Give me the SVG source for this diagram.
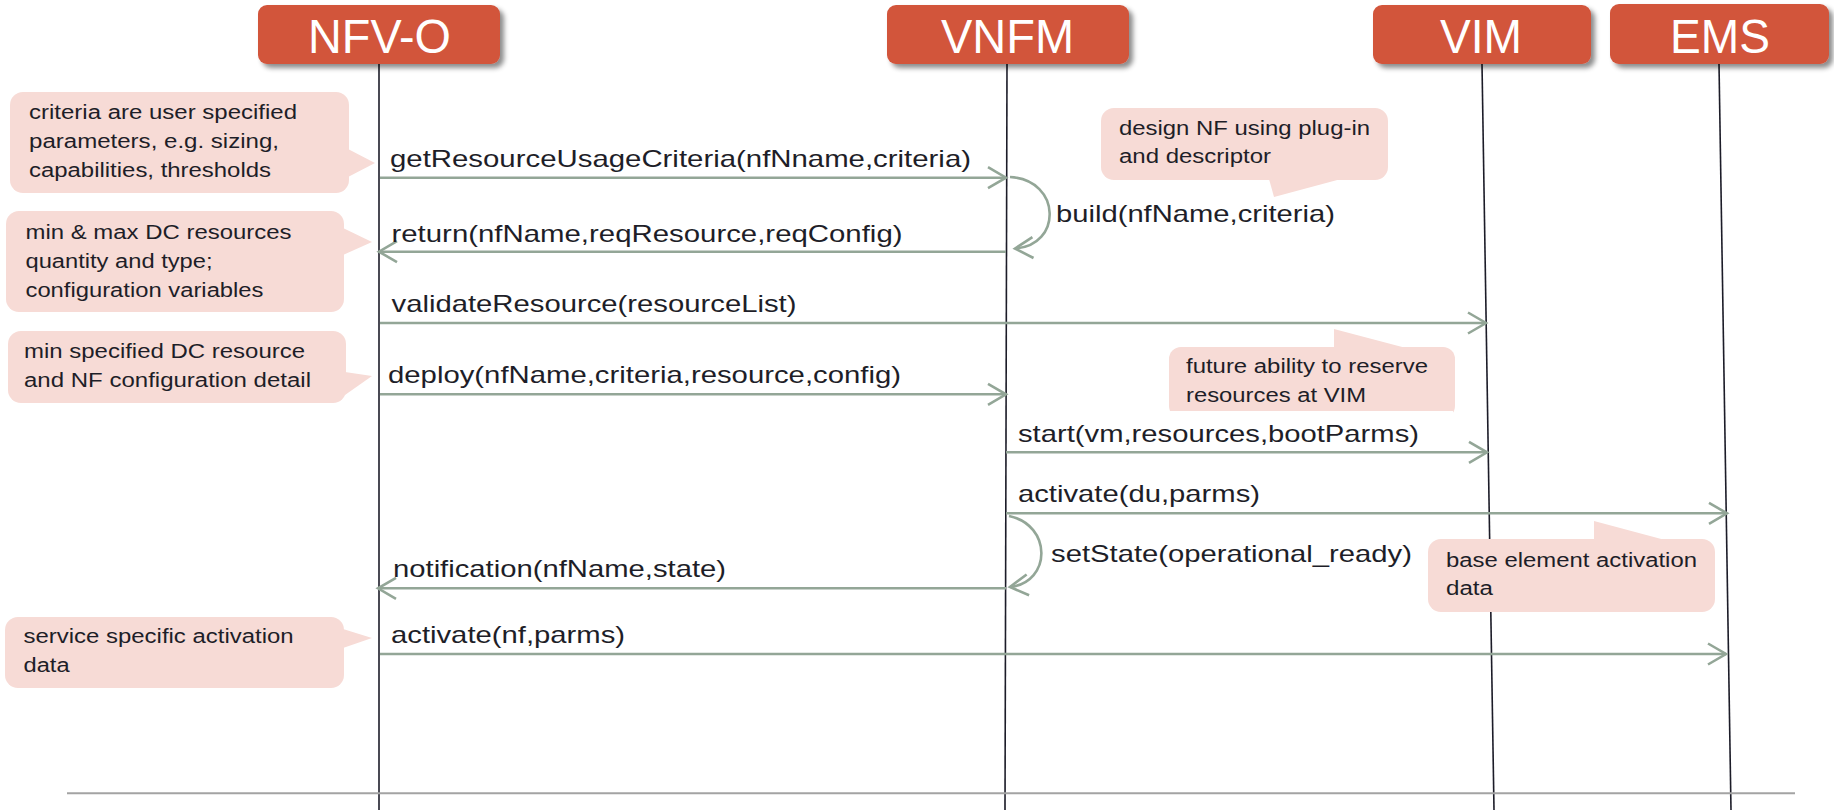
<svg xmlns="http://www.w3.org/2000/svg" width="1834" height="810" viewBox="0 0 1834 810">
<style>
.hdr{fill:#D2543B;}
.hdrt{font-family:"Liberation Sans",Arial,sans-serif;font-size:48px;fill:#ffffff;}
.life{stroke:#1c1c28;stroke-width:1.6;fill:none;}
.msg{stroke:#93A697;stroke-width:2.6;fill:none;marker-end:url(#arr);}
.lbl{font-family:"Liberation Sans",Arial,sans-serif;font-size:24px;fill:#1e1e28;}
.note{fill:#F7DBD6;}
.nt{font-family:"Liberation Sans",Arial,sans-serif;font-size:20px;fill:#1e1e28;}
</style>
<defs>
<marker id="arr" markerUnits="userSpaceOnUse" viewBox="-2 -2 24 26" refX="19" refY="10.5" markerWidth="24" markerHeight="26" orient="auto">
<path d="M1 0 L19 10.5 L1 21" fill="none" stroke="#93A697" stroke-width="2.6"/>
</marker>
<filter id="sh" x="-10%" y="-20%" width="125%" height="150%">
<feDropShadow dx="4" dy="4" stdDeviation="2.5" flood-color="#000" flood-opacity="0.45"/>
</filter>
</defs>
<rect width="1834" height="810" fill="#ffffff"/>

<g id="lifelines">
<path class="life" d="M379 64 V810"/>
<path class="life" d="M1007 64 L1005 810"/>
<path class="life" d="M1482 64 L1494 810"/>
<path class="life" d="M1719 64 L1731 810"/>
</g>

<g id="node-nfvo">
<rect class="hdr" x="258" y="5" width="242" height="59" rx="9" filter="url(#sh)"/>
<text class="hdrt" x="308" y="53" textLength="143" lengthAdjust="spacingAndGlyphs">NFV-O</text>
</g>
<g id="node-vnfm">
<rect class="hdr" x="887" y="5" width="242" height="59" rx="9" filter="url(#sh)"/>
<text class="hdrt" x="941" y="53" textLength="133" lengthAdjust="spacingAndGlyphs">VNFM</text>
</g>
<g id="node-vim">
<rect class="hdr" x="1373" y="5" width="218" height="59" rx="9" filter="url(#sh)"/>
<text class="hdrt" x="1440" y="53" textLength="82" lengthAdjust="spacingAndGlyphs">VIM</text>
</g>
<g id="node-ems">
<rect class="hdr" x="1610" y="4" width="219" height="60" rx="9" filter="url(#sh)"/>
<text class="hdrt" x="1670" y="53" textLength="100" lengthAdjust="spacingAndGlyphs">EMS</text>
</g>

<g id="note-criteria">
<rect class="note" x="10" y="92" width="339" height="101" rx="13"/>
<path class="note" d="M348 149 L375 163 L348 177 Z"/>
<text class="nt" x="29" y="119" textLength="268" lengthAdjust="spacingAndGlyphs">criteria are user specified</text>
<text class="nt" x="29" y="148" textLength="250" lengthAdjust="spacingAndGlyphs">parameters, e.g. sizing,</text>
<text class="nt" x="29" y="177" textLength="242" lengthAdjust="spacingAndGlyphs">capabilities, thresholds</text>
</g>
<g id="note-minmax">
<rect class="note" x="6" y="211" width="338" height="101" rx="13"/>
<path class="note" d="M343 228 L372 242 L343 255 Z"/>
<text class="nt" x="25.5" y="239" textLength="266" lengthAdjust="spacingAndGlyphs">min &amp; max DC resources</text>
<text class="nt" x="25.5" y="268" textLength="187" lengthAdjust="spacingAndGlyphs">quantity and type;</text>
<text class="nt" x="25.5" y="296.5" textLength="238" lengthAdjust="spacingAndGlyphs">configuration variables</text>
</g>
<g id="note-minspec">
<rect class="note" x="8" y="331" width="338" height="72" rx="13"/>
<path class="note" d="M345 372 L372 376 L345 395 Z"/>
<text class="nt" x="24" y="358" textLength="281" lengthAdjust="spacingAndGlyphs">min specified DC resource</text>
<text class="nt" x="24" y="387" textLength="287" lengthAdjust="spacingAndGlyphs">and NF configuration detail</text>
</g>
<g id="note-service">
<rect class="note" x="5" y="617" width="339" height="71" rx="13"/>
<path class="note" d="M343 629 L372 638 L343 648 Z"/>
<text class="nt" x="23.6" y="643" textLength="270" lengthAdjust="spacingAndGlyphs">service specific activation</text>
<text class="nt" x="23.6" y="671.5" textLength="46" lengthAdjust="spacingAndGlyphs">data</text>
</g>
<g id="note-design">
<rect class="note" x="1101" y="108" width="287" height="72" rx="13"/>
<path class="note" d="M1269 179 L1274 197 L1341 179 Z"/>
<text class="nt" x="1119" y="135" textLength="251" lengthAdjust="spacingAndGlyphs">design NF using plug-in</text>
<text class="nt" x="1119" y="163" textLength="152" lengthAdjust="spacingAndGlyphs">and descriptor</text>
</g>
<g id="note-future">
<rect class="note" x="1169" y="347" width="286" height="71" rx="12"/>
<path class="note" d="M1334 348 L1334 329 L1406 348 Z"/>
<text class="nt" x="1186" y="373" textLength="242" lengthAdjust="spacingAndGlyphs">future ability to reserve</text>
<text class="nt" x="1186" y="402" textLength="180" lengthAdjust="spacingAndGlyphs">resources at VIM</text>
</g>
<g id="note-base">
<rect class="note" x="1428" y="539" width="287" height="73" rx="13"/>
<path class="note" d="M1594 540 L1594 521 L1665 540 Z"/>
<text class="nt" x="1446" y="566.5" textLength="251" lengthAdjust="spacingAndGlyphs">base element activation</text>
<text class="nt" x="1446" y="595" textLength="47" lengthAdjust="spacingAndGlyphs">data</text>
</g>

<g id="connectors">
<path class="msg" d="M380 177.7 H1006"/>
<path class="msg" d="M1006 251.7 H379"/>
<path class="msg" d="M1010 177 C1062 180 1062 246 1015 248.5"/>
<path class="msg" d="M380 323 H1486"/>
<path class="msg" d="M380 394.3 H1006"/>
<rect x="1012" y="411" width="441" height="30" fill="#ffffff"/>
<path class="msg" d="M1006 452.3 H1487"/>
<path class="msg" d="M1006 513.3 H1727"/>
<path class="msg" d="M1009 516 C1052 525 1052 582 1010 587"/>
<path class="msg" d="M1006 588.3 H378"/>
<path class="msg" d="M380 654 H1726"/>
</g>

<g id="labels">
<text class="lbl" x="390" y="167" textLength="581" lengthAdjust="spacingAndGlyphs">getResourceUsageCriteria(nfNname,criteria)</text>
<text class="lbl" x="391.5" y="241.5" textLength="511" lengthAdjust="spacingAndGlyphs">return(nfName,reqResource,reqConfig)</text>
<text class="lbl" x="1056" y="221.5" textLength="279" lengthAdjust="spacingAndGlyphs">build(nfName,criteria)</text>
<text class="lbl" x="391.5" y="312" textLength="405" lengthAdjust="spacingAndGlyphs">validateResource(resourceList)</text>
<text class="lbl" x="388" y="383.3" textLength="513" lengthAdjust="spacingAndGlyphs">deploy(nfName,criteria,resource,config)</text>
<text class="lbl" x="1018" y="441.5" textLength="401" lengthAdjust="spacingAndGlyphs">start(vm,resources,bootParms)</text>
<text class="lbl" x="1018" y="501.5" textLength="242" lengthAdjust="spacingAndGlyphs">activate(du,parms)</text>
<text class="lbl" x="1051" y="561.5" textLength="361" lengthAdjust="spacingAndGlyphs">setState(operational_ready)</text>
<text class="lbl" x="393" y="577" textLength="333" lengthAdjust="spacingAndGlyphs">notification(nfName,state)</text>
<text class="lbl" x="391" y="643.3" textLength="234" lengthAdjust="spacingAndGlyphs">activate(nf,parms)</text>
</g>

<path d="M67 793.3 H1795" stroke="#A3A3A3" stroke-width="2"/>
</svg>
